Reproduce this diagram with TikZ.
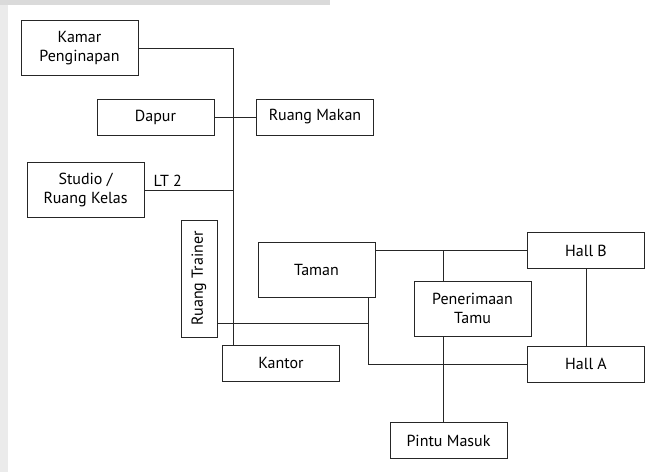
\documentclass[tikz,border=0pt]{standalone}
\usepackage{fontspec}
\setmainfont{PT Sans}
\usetikzlibrary{positioning}
\definecolor{markgrey}{RGB}{218,218,218}

\begin{document}
\begin{tikzpicture}[x=1pt,y=-1pt, every node/.style={font=\fontsize{16}{19}\selectfont},
  room/.style={draw=black!85,fill=white,line width=1pt,inner sep=2pt,
               minimum width=117pt,minimum height=36pt,align=center},
  tall/.style={room,minimum height=55pt},
  ln/.style={black!85,line width=0.9pt}]
\useasboundingbox (0,0) rectangle (646,472);
% faint watermark at the edges
\fill[markgrey] (0,0) rectangle (330,5);
\fill[markgrey!55] (0,5) rectangle (8,472);

\coordinate (spine) at (233,0);
\coordinate (tj) at (368,323);
\coordinate (pj) at (443,251);

\node[tall] (kamar) at (79.5,48) {Kamar\\Penginapan};
\node[room] (dapur) at (155.5,117) {Dapur};
\node[room] (makan) at (315,117) {Ruang Makan};
\node[tall] (studio) at (85.5,190) {Studio /\\Ruang Kelas};
\node[room,rotate=90] (trainer) at (199,278.5) {Ruang Trainer};
\node[room] (kantor) at (281,363) {Kantor};
\node[tall] (taman) at (316.5,270) {Taman};
\node[room] (hallb) at (586,250.5) {Hall B};
\node[tall] (terima) at (472.5,308.5) {Penerimaan\\Tamu};
\node[room] (halla) at (586,364) {Hall A};
\node[room] (pintu) at (448.5,440.5) {Pintu Masuk};
\node[inner sep=0pt,above right=3pt and 9pt of studio.east] (lt) {LT 2};

\draw[ln] (kamar.east) -| (kantor.north -| spine);
\draw[ln] (dapur.east) -- (makan.west);
\draw[ln] (studio.east) -- (studio.east -| spine);
\draw[ln] (trainer.south |- tj) -- (tj);
\draw[ln] (taman.south -| tj) |- (halla.west);
\draw[ln] (taman.east |- hallb.west) -- (hallb.west);
\draw[ln] (pj) -- (terima.north -| pj);
\draw[ln] (terima.south -| pj) -- (pintu.north -| pj);
\draw[ln] (hallb.south) -- (halla.north);
\end{tikzpicture}
\end{document}
